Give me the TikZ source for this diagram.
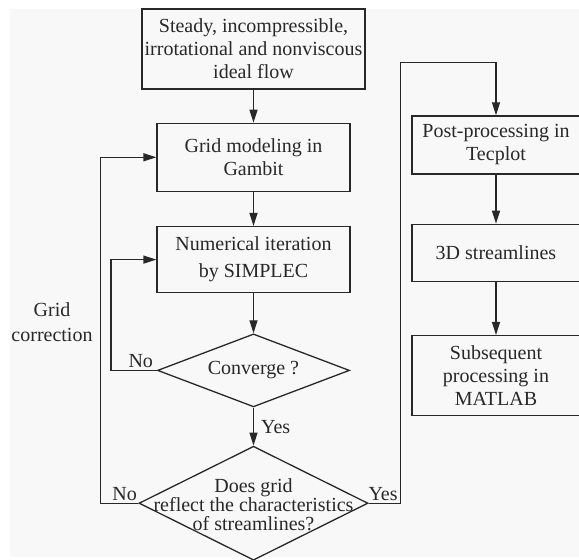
\documentclass[tikz,border=0pt]{standalone}
\usepackage{fontspec}
\setmainfont{Liberation Serif}
\usepackage{tikz}
\usetikzlibrary{arrows.meta, shapes, positioning}
\usepackage{xcolor}
\definecolor{ink}{RGB}{40,40,40}
\definecolor{paper}{RGB}{248,248,248}
\tikzset{
  block/.style={draw=ink, line width=1.3pt, text=ink, align=center, inner sep=2pt,
    font=\fontsize{20}{23}\selectfont},
  decision/.style={draw=ink, line width=1.3pt, text=ink, diamond, inner sep=0pt,
    font=\fontsize{20}{23}\selectfont},
  lbl/.style={text=ink, inner sep=2pt, font=\fontsize{20}{24}\selectfont},
  arr/.style={draw=ink, line width=1.3pt, -{Triangle[length=13pt,width=8pt]}},
  wire/.style={draw=ink, line width=1.3pt}
}

\begin{document}
\begin{tikzpicture}[x=1pt, y=1pt]
\useasboundingbox (0,0) rectangle (579,-560);
\fill[paper] (10,-9) rectangle (579,-557);

\node[block, minimum width=223pt, minimum height=80pt] (flow) at (253.5,-49)
  {Steady, incompressible,\\irrotational and nonviscous\\ideal flow};
\node[block, minimum width=193pt, minimum height=68pt, below=33pt of flow] (grid)
  {Grid modeling in\\Gambit};
\node[block, minimum width=193pt, minimum height=66pt, below=34pt of grid,
  font=\fontsize{20}{27}\selectfont] (iter) {Numerical iteration\\by SIMPLEC};
\node[decision, aspect=2.6, minimum width=192pt, minimum height=73pt, below=40pt of iter] (conv)
  {Converge ?};
\node[decision, minimum width=229pt, minimum height=114pt, below=38pt of conv] (check) {};
\node[lbl, align=center, font=\fontsize{20}{19}\selectfont] (checktxt) at ([yshift=-1pt]check)
  {Does grid\\reflect the characteristics\\of streamlines?};

\node[block, minimum width=168pt, minimum height=58pt] (post) at (496,-145)
  {Post-processing in\\Tecplot};
\node[block, minimum width=168pt, minimum height=57pt, below=49pt of post] (lines)
  {3D streamlines};
\node[block, minimum width=168pt, minimum height=80pt, below=53pt of lines] (matlab)
  {Subsequent\\processing in\\MATLAB};

\node[lbl, align=center, font=\fontsize{20}{25}\selectfont] (corr) at (52,-322) {Grid\\correction};

\draw[arr] (flow) -- (grid);
\draw[arr] (grid) -- (iter);
\draw[arr] (iter) -- (conv);
\draw[arr] (conv) -- node[lbl, right, xshift=5pt] {Yes} (check);
\draw[arr] (conv.west) -- node[lbl, above, pos=0.35] {No} ++(-46pt,0) |- (iter.west);
\draw[arr] (check.west) -- node[lbl, above, pos=0.36] {No} ++(-38pt,0) |- (grid.west);
\draw[arr] (check.east) -- node[lbl, above, pos=0.45] {Yes} ++(32pt,0)
  |- ([yshift=53pt]post.north) -- (post.north);
\draw[arr] (post) -- (lines);
\draw[arr] (lines) -- (matlab);
\end{tikzpicture}
\end{document}
